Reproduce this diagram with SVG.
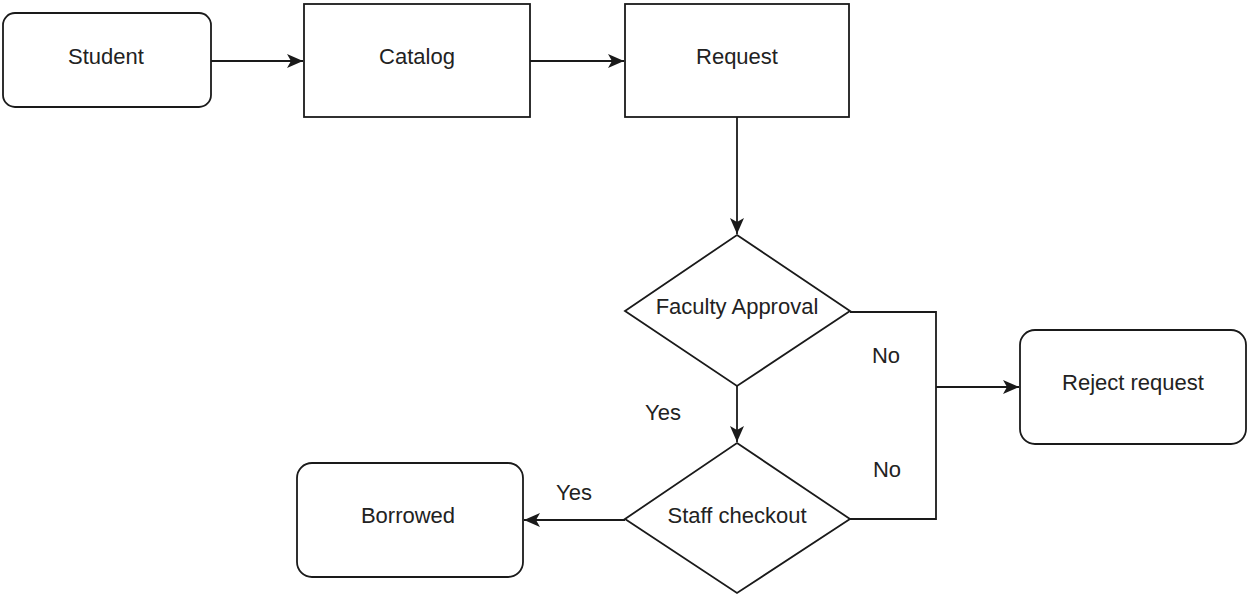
<svg xmlns="http://www.w3.org/2000/svg" width="1248" height="595" viewBox="0 0 1248 595">
  <style>
    .shape { fill: #ffffff; stroke: #1a1a1a; stroke-width: 1.8; }
    .edge { fill: none; stroke: #1a1a1a; stroke-width: 1.8; }
    .label { font-family: "Liberation Sans", Arial, sans-serif; font-size: 22px; fill: #222222; text-anchor: middle; }
  </style>
  <defs>
    <marker id="arrow" markerUnits="userSpaceOnUse" markerWidth="18" markerHeight="16" refX="16" refY="7" orient="auto">
      <path d="M0,0 L16,7 L0,14 L4,7 Z" fill="#1a1a1a"/>
    </marker>
  </defs>
  <rect width="1248" height="595" fill="#ffffff"/>

  <g id="connectors">
    <line class="edge" x1="211" y1="61" x2="303" y2="61" marker-end="url(#arrow)"/>
    <line class="edge" x1="530" y1="61" x2="624" y2="61" marker-end="url(#arrow)"/>
    <line class="edge" x1="737" y1="117" x2="737" y2="234" marker-end="url(#arrow)"/>
    <line class="edge" x1="737" y1="386" x2="737" y2="442" marker-end="url(#arrow)"/>
    <line class="edge" x1="625" y1="520" x2="524" y2="520" marker-end="url(#arrow)"/>
    <polyline class="edge" points="850,312 936,312 936,519 850,519"/>
    <line class="edge" x1="936" y1="387" x2="1019" y2="387" marker-end="url(#arrow)"/>
    <text class="label" x="886" y="363">No</text>
    <text class="label" x="663" y="420">Yes</text>
    <text class="label" x="887" y="477">No</text>
    <text class="label" x="574" y="500">Yes</text>
  </g>

  <g id="student">
    <rect class="shape" x="3" y="13" width="208" height="94" rx="12" ry="12"/>
    <text class="label" x="106" y="64">Student</text>
  </g>
  <g id="catalog">
    <rect class="shape" x="304" y="4" width="226" height="113"/>
    <text class="label" x="417" y="64">Catalog</text>
  </g>
  <g id="request">
    <rect class="shape" x="625" y="4" width="224" height="113"/>
    <text class="label" x="737" y="64">Request</text>
  </g>
  <g id="faculty-approval">
    <polygon class="shape" points="737,235 850,311 737,386 625,311"/>
    <text class="label" x="737" y="314">Faculty Approval</text>
  </g>
  <g id="staff-checkout">
    <polygon class="shape" points="737,443 850,519 737,593 625,519"/>
    <text class="label" x="737" y="523">Staff checkout</text>
  </g>
  <g id="reject-request">
    <rect class="shape" x="1020" y="330" width="226" height="114" rx="15" ry="15"/>
    <text class="label" x="1133" y="390">Reject request</text>
  </g>
  <g id="borrowed">
    <rect class="shape" x="297" y="463" width="226" height="114" rx="15" ry="15"/>
    <text class="label" x="408" y="523">Borrowed</text>
  </g>
</svg>
